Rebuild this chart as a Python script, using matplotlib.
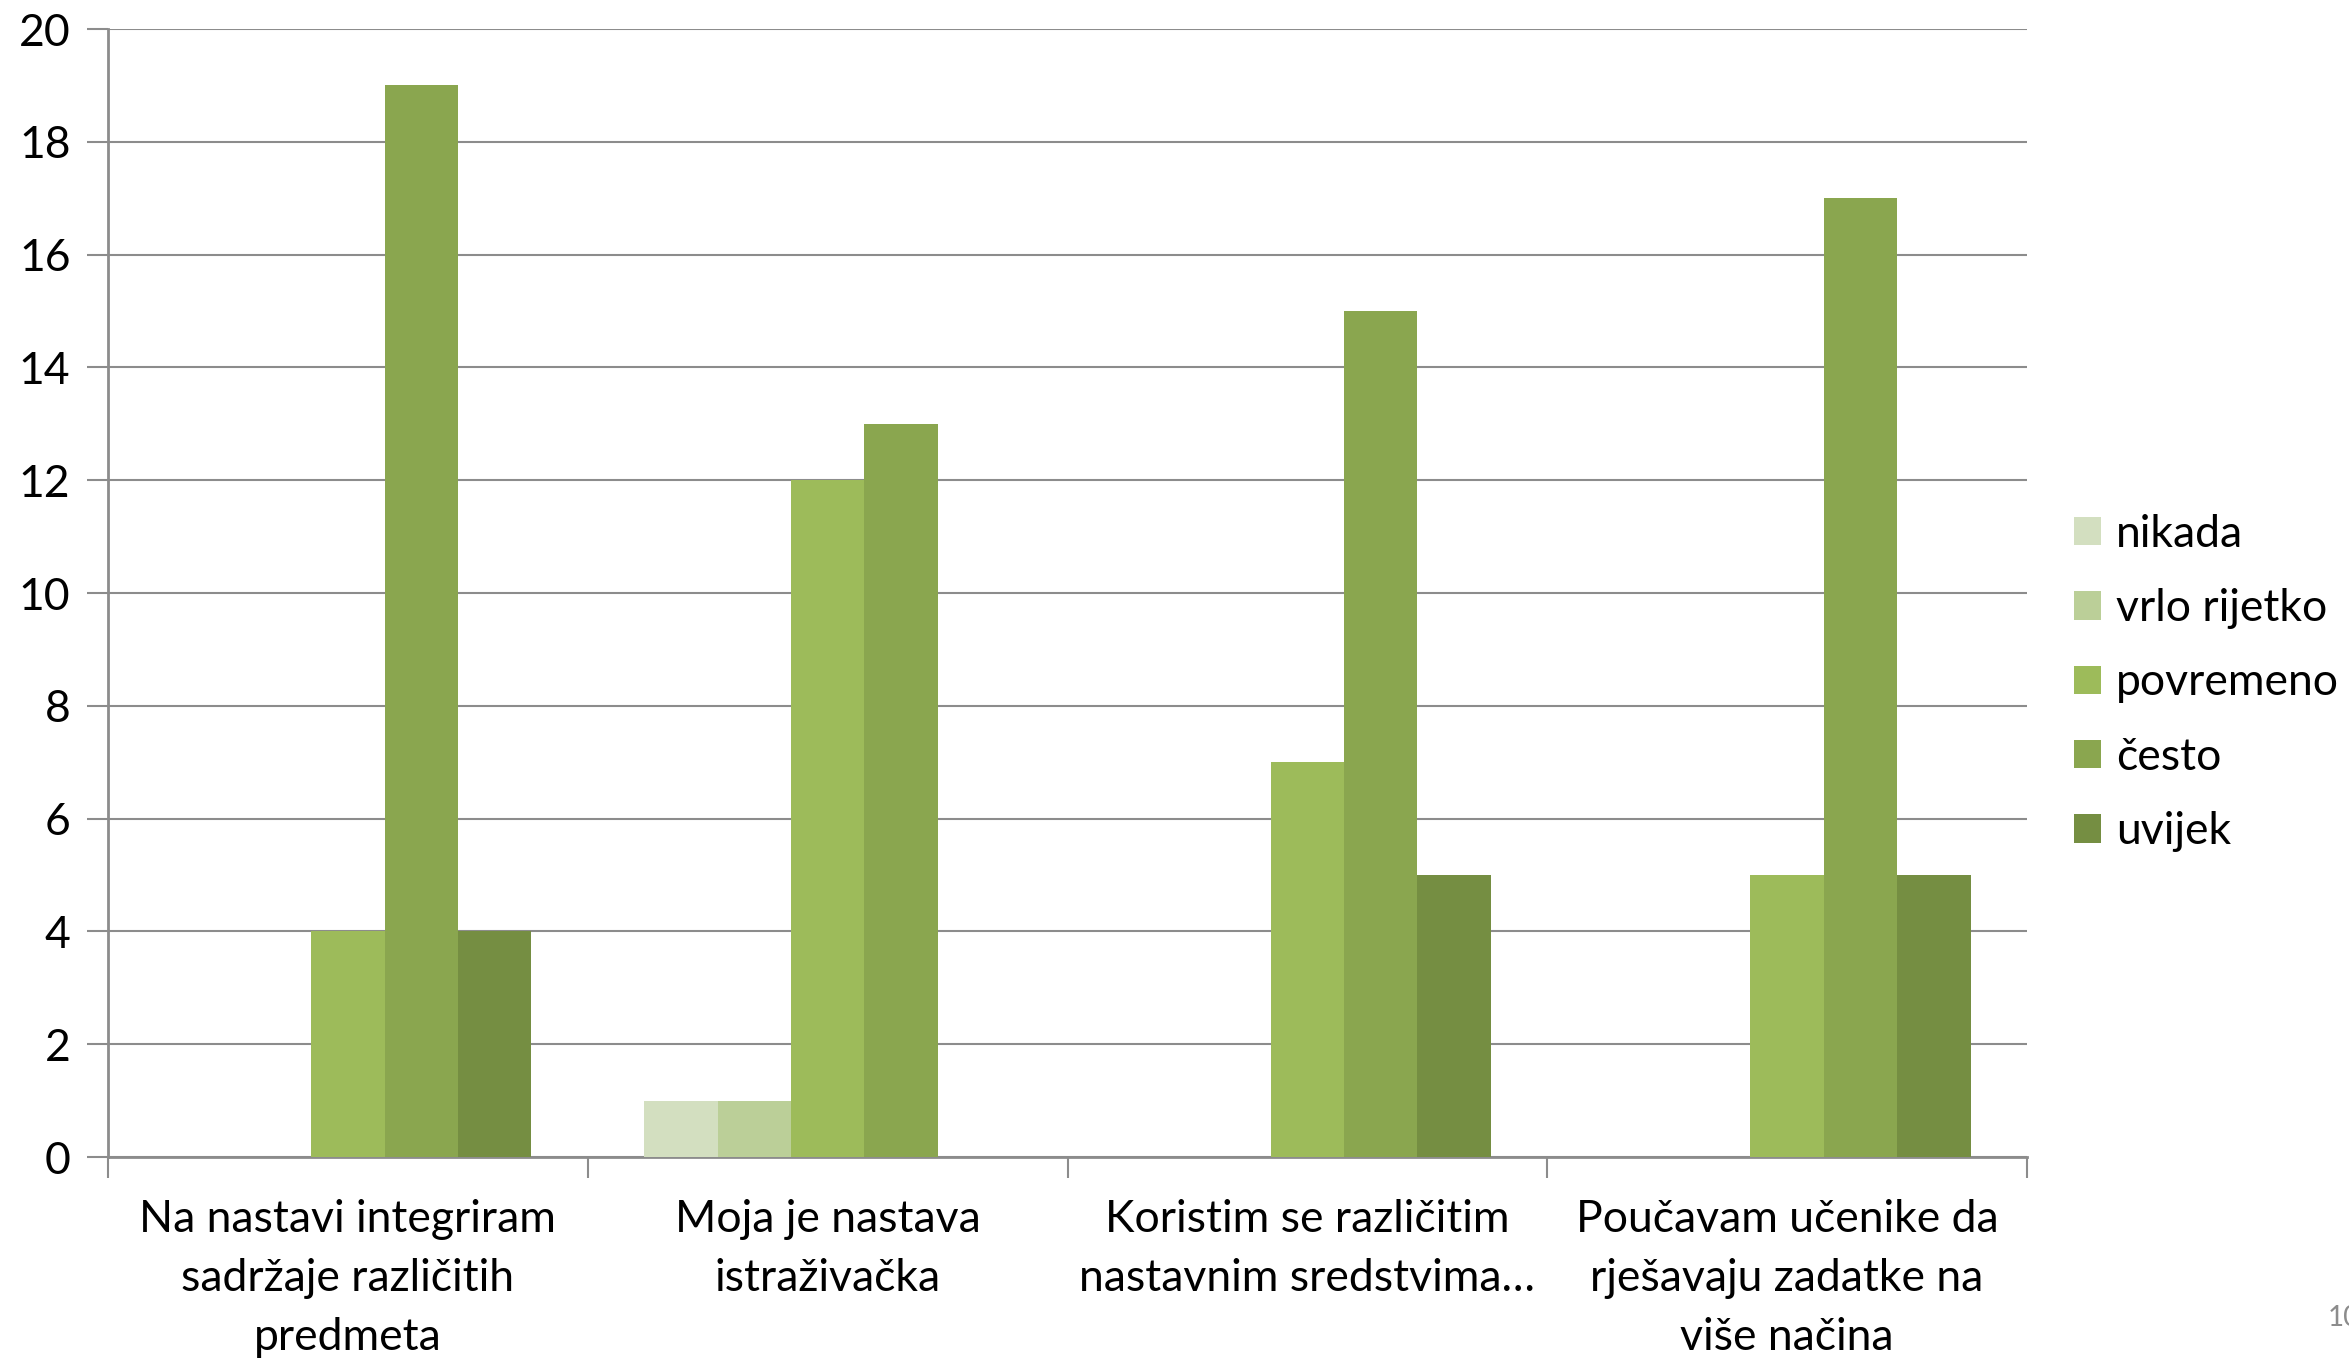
import matplotlib
matplotlib.use("Agg")
import matplotlib.pyplot as plt
import numpy as np

categories = [
    "Na nastavi integriram\nsadržaje različitih\npredmeta",
    "Moja je nastava\nistraživačka",
    "Koristim se različitim\nnastavnim sredstvima…",
    "Poučavam učenike da\nrješavaju zadatke na\nviše načina",
]
series_names = ["nikada", "vrlo rijetko", "povremeno", "često", "uvijek"]
nikada = [0, 1, 0, 0]
vrlo_rijetko = [0, 1, 0, 0]
povremeno = [4, 12, 7, 5]
cesto = [19, 13, 15, 17]
uvijek = [4, 0, 5, 5]
series_values = [nikada, vrlo_rijetko, povremeno, cesto, uvijek]
colors = ["#d3dfc0", "#bbcf98", "#9dbb5a", "#8aa64f", "#758e42"]
yticks = [0, 2, 4, 6, 8, 10, 12, 14, 16, 18, 20]

plt.rcParams['font.family'] = ['Lato', 'DejaVu Sans']
FS = 32

fig = plt.figure(figsize=(23.49, 13.59), dpi=100)
ax = fig.add_axes([108/2349, 1-1157/1359, (2027-108)/2349, (1157-29)/1359])

x = np.arange(len(categories))
w = 0.153
for i, (name, vals, c) in enumerate(zip(series_names, series_values, colors)):
    ax.bar(x + (i - 2) * w, vals, width=w, color=c, label=name, zorder=3)

ax.set_xlim(-0.5, len(categories) - 0.5)
ax.set_ylim(0, 20)
ax.set_yticks(yticks)
ax.set_yticklabels([str(v) for v in yticks], fontsize=FS)
ax.yaxis.grid(True, color="#8c8c8c", linewidth=1.5, zorder=0)
ax.set_axisbelow(True)

ax.set_xticks(np.arange(len(categories) + 1) - 0.5)
ax.set_xticklabels([])
ax.set_xticks(x, minor=True)
ax.set_xticklabels(categories, minor=True, fontsize=FS, linespacing=1.55)
ax.tick_params(axis='x', which='minor', length=0, pad=30)
ax.tick_params(axis='x', which='major', length=15, width=1.5, color="#8c8c8c", direction='out')
ax.tick_params(axis='y', length=15, width=1.5, color="#8c8c8c", direction='out', pad=12)

for s in ["top", "right"]:
    ax.spines[s].set_visible(False)
for s in ["left", "bottom"]:
    ax.spines[s].set_color("#8c8c8c")
    ax.spines[s].set_linewidth(2)

leg = ax.legend(loc="center left", bbox_to_anchor=(2074/2349, 1-683/1359), bbox_transform=fig.transFigure,
                frameon=False, fontsize=FS, handlelength=0.6, handleheight=0.6, handletextpad=0.35,
                labelspacing=0.75, borderaxespad=0, borderpad=0)

fig.text(2328/2349, 1-1318/1359, "10", fontsize=20, color="#8c8c8c", ha="left", va="center")

fig.savefig("out.png", dpi=100)
